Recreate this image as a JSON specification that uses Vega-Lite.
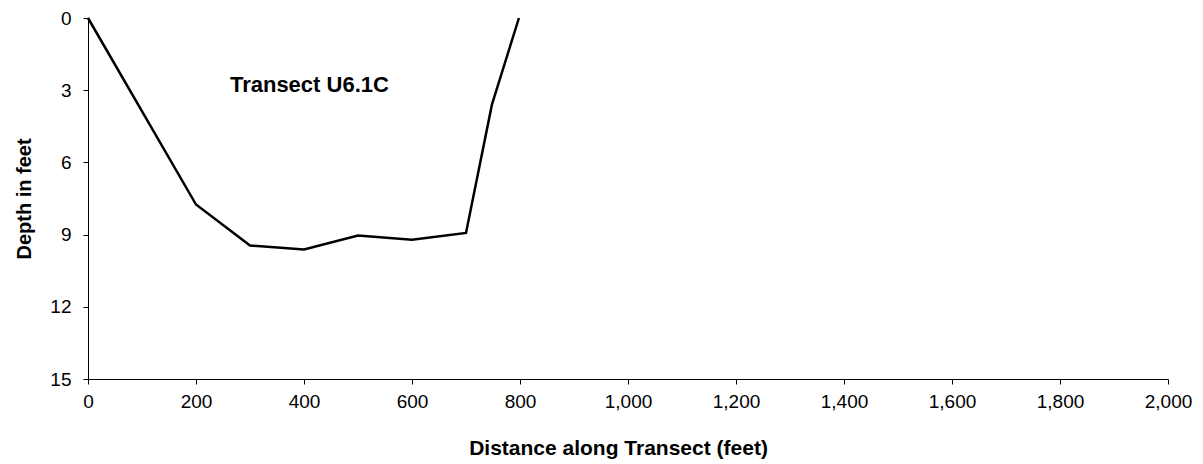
{
  "$schema": "https://vega.github.io/schema/vega-lite/v6.json",
  "width": 1080,
  "height": 361,
  "autosize": "none",
  "padding": {"left": 88, "top": 18, "right": 35, "bottom": 85},
  "background": "white",
  "config": {
    "view": {"stroke": null},
    "font": "Liberation Sans",
    "axis": {
      "domainColor": "black", "tickColor": "black", "labelColor": "black", "titleColor": "black",
      "grid": false, "labelFont": "Liberation Sans", "titleFont": "Liberation Sans",
      "labelFontSize": 19, "titleFontSize": 20, "titleFontWeight": "bold", "tickSize": 5
    }
  },
  "layer": [
    {
      "data": {"values": [
        {"distance": 0, "depth": 0},
        {"distance": 200, "depth": 7.75},
        {"distance": 300, "depth": 9.45},
        {"distance": 400, "depth": 9.62},
        {"distance": 500, "depth": 9.04},
        {"distance": 600, "depth": 9.21},
        {"distance": 700, "depth": 8.93},
        {"distance": 748, "depth": 3.6},
        {"distance": 798, "depth": 0}
      ]},
      "mark": {"type": "line", "color": "black", "strokeWidth": 2.5},
      "encoding": {
        "x": {"field": "distance", "type": "quantitative", "scale": {"domain": [0, 2000], "nice": false},
              "axis": {"values": [0,200,400,600,800,1000,1200,1400,1600,1800,2000], "format": ",d", "title": "Distance along Transect (feet)", "titleFontSize": 21, "titleX": 530, "labelPadding": 8, "titlePadding": 26, "labelFlush": false}},
        "y": {"field": "depth", "type": "quantitative", "scale": {"domain": [0, 15], "reverse": true, "nice": false, "zero": false},
              "axis": {"values": [0,3,6,9,12,15], "title": "Depth in feet", "labelPadding": 12, "titlePadding": 15}}
      }
    },
    {
      "data": {"values": [{"distance": 410, "depth": 2.8, "label": "Transect U6.1C"}]},
      "mark": {"type": "text", "fontSize": 22, "fontWeight": "bold", "font": "Liberation Sans", "color": "black", "align": "center", "baseline": "middle"},
      "encoding": {
        "x": {"field": "distance", "type": "quantitative"},
        "y": {"field": "depth", "type": "quantitative"},
        "text": {"field": "label"}
      }
    }
  ]
}
